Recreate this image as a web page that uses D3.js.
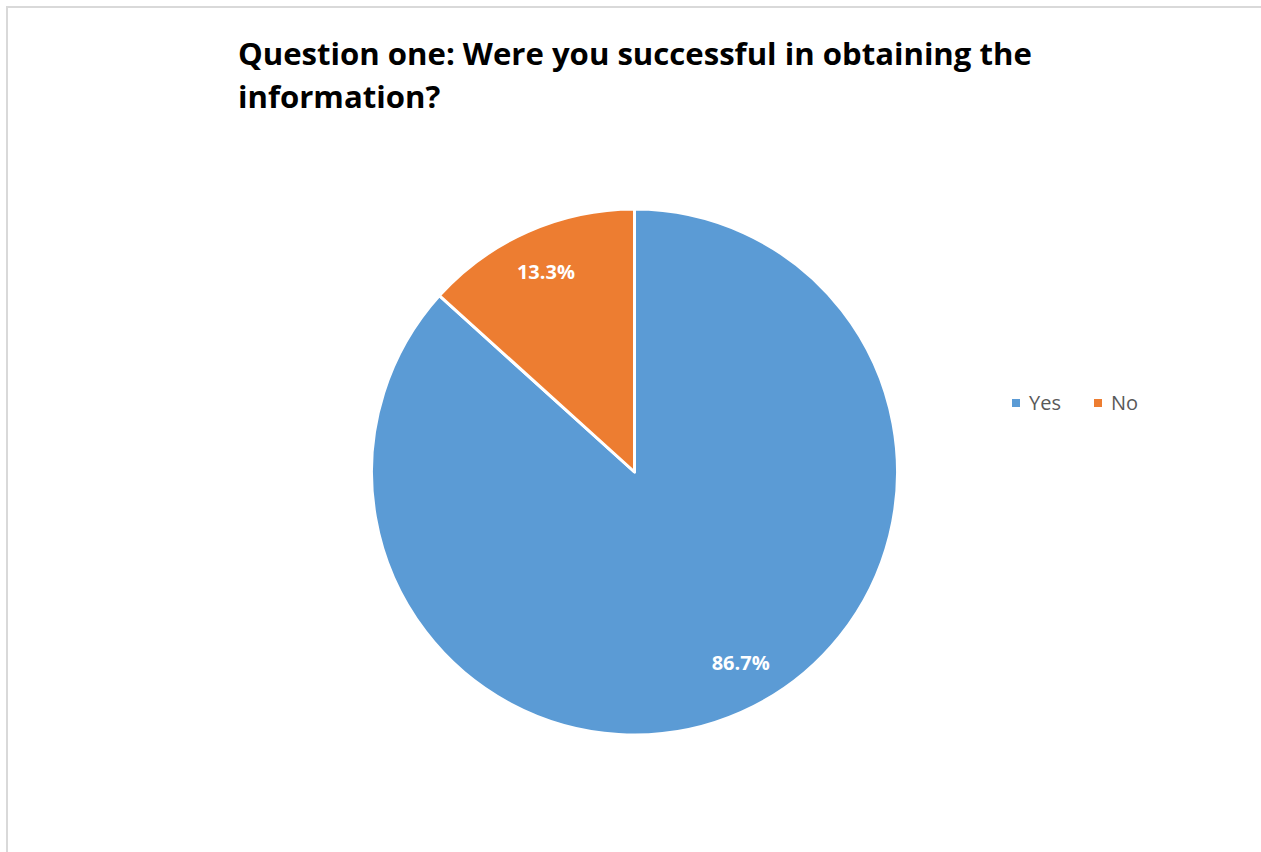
<!DOCTYPE html>
<html>
<head>
<meta charset="utf-8">
<script src="https://cdn.jsdelivr.net/npm/d3@7"></script>
<style>
  body { margin: 0; background: #fff; }
  svg { display: block; }
</style>
</head>
<body>
<svg id="chart" width="1261" height="852"></svg>
<script>
var categories = ["Yes", "No"];
var values = [86.7, 13.3];
var colors = ["#5b9bd5", "#ed7d31"];
var titleLines = ["Question one: Were you successful in obtaining the", "information?"];

var width = 1261, height = 852;
var cx = 634.5, cy = 472, radius = 263;

var svg = d3.select("#chart");

// chart area border (only top/left visible in the crop)
svg.append("rect")
  .attr("x", 7).attr("y", 7)
  .attr("width", width + 20).attr("height", height + 20)
  .attr("fill", "#fff")
  .attr("stroke", "#d9d9d9")
  .attr("stroke-width", 2);

// title
var title = svg.append("text")
  .attr("x", 238)
  .attr("y", 65)
  .attr("font-family", "'Open Sans', sans-serif")
  .attr("font-weight", "bold")
  .attr("font-size", 27)
  .attr("fill", "#000");
title.selectAll("tspan")
  .data(titleLines)
  .enter().append("tspan")
    .attr("x", 238)
    .attr("dy", function(d, i) { return i ? 43 : 0; })
    .text(function(d) { return d; });

// fit title width to reference
var first = title.select("tspan").node();
var w = first.getComputedTextLength();
title.attr("font-size", 27 * 794 / w);

var data = categories.map(function(c, i) { return {name: c, value: values[i], color: colors[i]}; });

var pie = d3.pie().sort(null).value(function(d) { return d.value; });
var arc = d3.arc().innerRadius(0).outerRadius(radius);
var labelArc = d3.arc().innerRadius(radius * 0.84).outerRadius(radius * 0.84);

var g = svg.append("g").attr("transform", "translate(" + cx + "," + cy + ")");

var slices = pie(data);

g.selectAll("path.slice")
  .data(slices)
  .enter().append("path")
    .attr("class", "slice")
    .attr("d", arc)
    .attr("fill", function(d) { return d.data.color; })
    .attr("stroke", "#fff")
    .attr("stroke-width", 3)
    .attr("stroke-linejoin", "round");

// excel's best-fit placement sits a bit further round on the big slice
var labelShift = [0.09, 0];

g.selectAll("text.lbl")
  .data(slices)
  .enter().append("text")
    .attr("class", "lbl")
    .attr("transform", function(d, i) {
      var a = (d.startAngle + d.endAngle) / 2 - labelShift[i];
      var r = radius * 0.83;
      return "translate(" + (Math.sin(a) * r) + "," + (-Math.cos(a) * r) + ")";
    })
    .attr("text-anchor", "middle")
    .attr("dy", "0.35em")
    .attr("font-family", "'Open Sans', sans-serif")
    .attr("font-weight", "bold")
    .attr("font-size", 20)
    .attr("fill", "#fff")
    .text(function(d) { return d3.format(".1f")(d.data.value) + "%"; });

// legend
var legendX = [1012, 1094];
var legend = svg.append("g");
var items = legend.selectAll("g")
  .data(data)
  .enter().append("g")
    .attr("transform", function(d, i) { return "translate(" + legendX[i] + ",403)"; });
items.append("rect")
  .attr("x", 0).attr("y", -4)
  .attr("width", 8).attr("height", 8)
  .attr("fill", function(d) { return d.color; });
items.append("text")
  .attr("x", 17)
  .attr("dy", "0.35em")
  .attr("font-family", "'Open Sans', sans-serif")
  .attr("font-size", 20)
  .attr("fill", "#595959")
  .text(function(d) { return d.name; });
</script>
</body>
</html>
